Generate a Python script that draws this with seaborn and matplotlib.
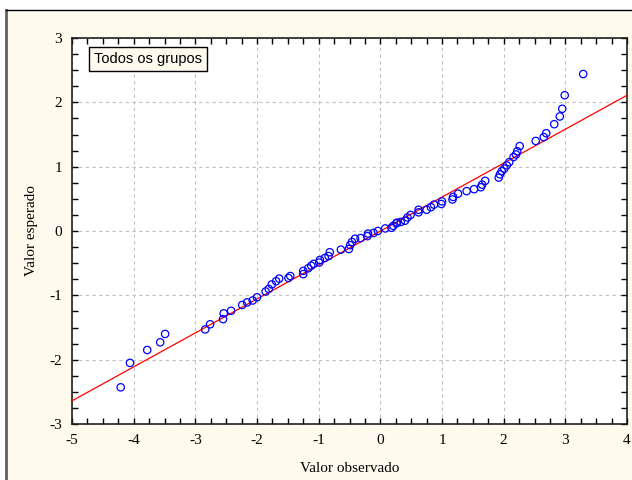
import pandas as pd
import seaborn as sns
import matplotlib.pyplot as plt
from matplotlib.patches import Rectangle
from matplotlib.ticker import MultipleLocator

# valores observados (eixo x) e esperados (eixo y)
observado = [-4.21, -4.06, -3.78, -3.57, -3.49, -2.84, -2.76, -2.55, -2.54, -2.42,
             -2.24, -2.16, -2.07, -2.00, -1.86, -1.81, -1.76, -1.69, -1.64, -1.49,
             -1.46, -1.25, -1.25, -1.17, -1.12, -1.08, -0.99, -0.98, -0.90, -0.84,
             -0.82, -0.64, -0.51, -0.49, -0.46, -0.41, -0.32, -0.21, -0.20, -0.11,
             -0.04, 0.08, 0.18, 0.21, 0.26, 0.27, 0.33, 0.40, 0.44, 0.49,
             0.62, 0.62, 0.75, 0.82, 0.87, 0.99, 1.00, 1.17, 1.18, 1.26,
             1.40, 1.52, 1.63, 1.65, 1.70, 1.92, 1.94, 1.97, 2.01, 2.05,
             2.09, 2.16, 2.20, 2.22, 2.26, 2.52, 2.65, 2.69, 2.82, 2.91,
             2.95, 2.99, 3.29]
esperado = [-2.43, -2.05, -1.85, -1.73, -1.60, -1.53, -1.45, -1.37, -1.28, -1.24,
            -1.15, -1.11, -1.08, -1.03, -0.94, -0.90, -0.83, -0.78, -0.74, -0.73,
            -0.70, -0.67, -0.62, -0.58, -0.54, -0.51, -0.49, -0.45, -0.42, -0.39,
            -0.33, -0.29, -0.28, -0.22, -0.17, -0.12, -0.11, -0.08, -0.04, -0.03,
            0.00, 0.04, 0.05, 0.08, 0.12, 0.13, 0.14, 0.16, 0.21, 0.25,
            0.29, 0.33, 0.33, 0.37, 0.41, 0.42, 0.46, 0.49, 0.53, 0.58,
            0.62, 0.65, 0.68, 0.72, 0.78, 0.83, 0.88, 0.93, 0.97, 1.02,
            1.07, 1.15, 1.19, 1.24, 1.32, 1.40, 1.46, 1.52, 1.66, 1.78,
            1.90, 2.11, 2.44]

# reta de referencia
reta_x = [-5, 4]
reta_y = [-2.64, 2.11]

df = pd.DataFrame({"obs": observado, "esp": esperado})
reta = pd.DataFrame({"x": reta_x, "y": reta_y})

plt.rcParams["font.family"] = "Liberation Serif"
plt.rcParams["axes.unicode_minus"] = False
fig = plt.figure(figsize=(6.32, 4.8), dpi=100)
fig.patch.set_facecolor("white")

# painel creme com borda
fig.patches.append(Rectangle((6 / 632, -0.01), 1.0, 1 - 10 / 480 + 0.01,
                             transform=fig.transFigure, facecolor="#fffaee",
                             edgecolor="none", zorder=-5))
fig.add_artist(plt.Line2D([6 / 632, 6 / 632], [0, 1 - 10 / 480], color="#606060",
                          lw=2, transform=fig.transFigure, zorder=-4))
fig.add_artist(plt.Line2D([6 / 632, 1], [1 - 10 / 480, 1 - 10 / 480], color="black",
                          lw=1, transform=fig.transFigure, zorder=-4))

ax = fig.add_axes([72 / 632, 1 - 424 / 480, 555 / 632, 386 / 480])
ax.set_facecolor("white")

sns.lineplot(data=reta, x="x", y="y", color="red", lw=0.9, ax=ax, zorder=3)
sns.scatterplot(data=df, x="obs", y="esp", facecolors="none", edgecolor="blue",
                s=28, linewidth=0.9, ax=ax, zorder=4)

ax.set_xlim(-5, 4)
ax.set_ylim(-3, 3)
ax.xaxis.set_major_locator(MultipleLocator(1))
ax.yaxis.set_major_locator(MultipleLocator(1))
ax.xaxis.set_minor_locator(MultipleLocator(0.25))
ax.yaxis.set_minor_locator(MultipleLocator(0.25))
ax.tick_params(which="both", direction="in", top=True, right=True,
               labelsize=11, color="black")
ax.tick_params(which="major", length=4, width=1, pad=7)
ax.tick_params(which="minor", length=4, width=1)
ax.grid(True, which="major", color="#c0c0c0", linestyle=(0, (3, 3)), lw=0.8)
for s in ax.spines.values():
    s.set_linewidth(1.2)
    s.set_color("#202020")

ax.set_xlabel("Valor observado", fontsize=11, labelpad=11)
ax.set_ylabel("Valor esperado", fontsize=11, labelpad=8)

ax.text(0.04, 0.945, "Todos os grupos", transform=ax.transAxes, fontsize=10.5,
        family="Liberation Sans", va="center", ha="left",
        bbox=dict(boxstyle="square,pad=0.35", facecolor="#fffaee",
                  edgecolor="black", lw=1))

fig.savefig("out.png", dpi=100)
